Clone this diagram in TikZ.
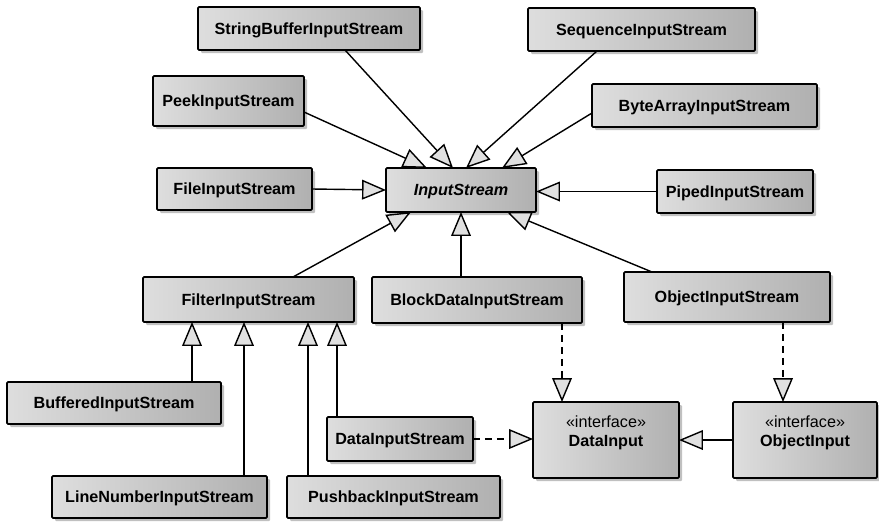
\documentclass[tikz,border=0pt]{standalone}
\usepackage{fontspec}
\setmainfont{Liberation Sans}
\usetikzlibrary{arrows.meta,shadows,calc}
% class box given by its corner coordinates
\newcommand\umlbox[7][]{%
  \node[cls,#1,minimum width={(#5-#3)*0.025cm},minimum height={(#6-#4)*0.025cm}]
    (#2) at ({(#3+#5)/2},{(#4+#6)/2}) {#7};}
\begin{document}
\begin{tikzpicture}[x=0.025cm,y=-0.025cm,
  cls/.style={draw=black, line width=1.3pt, rounded corners=0.8pt,
    left color=black!13, right color=black!31,
    drop shadow={shadow xshift=2.2pt, shadow yshift=-2.2pt, fill=black!45, opacity=0.55},
    inner sep=0pt, outer sep=0pt, align=center, text depth=0pt,
    font=\fontsize{11.5}{13.5}\selectfont\bfseries},
  gen/.style={line width=1pt, -{Triangle[length=17pt,width=14pt,fill=black!12,line width=1pt]}},
  real/.style={gen, dash pattern=on 5pt off 3.5pt},
  iface/.style={text depth=12pt},
]
\useasboundingbox (0,0) rectangle (879,521);

% classes
\umlbox{sbis}{198}{7}{420}{50}{StringBufferInputStream}
\umlbox{seqis}{528}{8}{755}{51}{SequenceInputStream}
\umlbox{peek}{153}{76}{304}{126}{PeekInputStream}
\umlbox{bais}{592}{84}{817}{127}{ByteArrayInputStream}
\umlbox{fis}{157}{168}{312}{210}{FileInputStream}
\umlbox{is}{386}{168}{536}{212}{\itshape InputStream}
\umlbox{pis}{657}{170}{813}{213}{PipedInputStream}
\umlbox{filt}{143}{277}{354}{322}{FilterInputStream}
\umlbox{bdis}{372}{277}{582}{323}{BlockDataInputStream}
\umlbox{ois}{624}{272}{830}{322}{ObjectInputStream}
\umlbox{buf}{7}{382}{221}{424}{BufferedInputStream}
\umlbox{dis}{327}{417}{473}{461}{DataInputStream}
\umlbox{lnis}{52}{476}{267}{518}{LineNumberInputStream}
\umlbox{pbis}{287}{476}{500}{518}{PushbackInputStream}
\umlbox[iface]{di}{533}{402}{679}{478}{{\mdseries «interface»}\\DataInput}
\umlbox[iface]{oi}{733}{402}{877}{478}{{\mdseries «interface»}\\ObjectInput}

% subclasses of InputStream
\draw[gen] ($(sbis.south west)+(147,0)$) -- ($(is.north west)+(67,0)$);
\draw[gen] ($(peek.north east)+(0,36)$) -- ($(is.north west)+(41,0)$);
\draw[gen] ($(seqis.south west)+(69,0)$) -- ($(is.north west)+(80,0)$);
\draw[gen] ($(bais.north west)+(0,29)$) -- ($(is.north west)+(116,0)$);
\draw[gen] (fis.east) -- (is.west);
\draw[gen] (pis.west) -- (pis.west -| is.east);
\draw[gen] ($(filt.north west)+(150,0)$) -- ($(is.south west)+(25,0)$);
\draw[gen] (is.south |- bdis.north) -- (is.south);
\draw[gen] ($(ois.north west)+(28,0)$) -- ($(is.south west)+(121,0)$);

% subclasses of FilterInputStream
\coordinate (f1) at ($(filt.south west)+(49,0)$);
\coordinate (f2) at ($(filt.south west)+(101,0)$);
\coordinate (f3) at ($(filt.south west)+(165,0)$);
\coordinate (f4) at ($(filt.south west)+(194,0)$);
\draw[gen] (buf.north -| f1) -- (f1);
\draw[gen] (lnis.north -| f2) -- (f2);
\draw[gen] (pbis.north -| f3) -- (f3);
\draw[gen] (dis.north -| f4) -- (f4);

% interfaces
\coordinate (b1) at ($(bdis.south west)+(190,0)$);
\coordinate (o1) at ($(ois.south west)+(159,0)$);
\draw[real] (b1) -- (b1 |- di.north);
\draw[real] (o1) -- (o1 |- oi.north);
\draw[real] (dis.east) -- (dis.east -| di.west);
\draw[gen] (oi.west) -- (di.east);
\end{tikzpicture}
\end{document}
